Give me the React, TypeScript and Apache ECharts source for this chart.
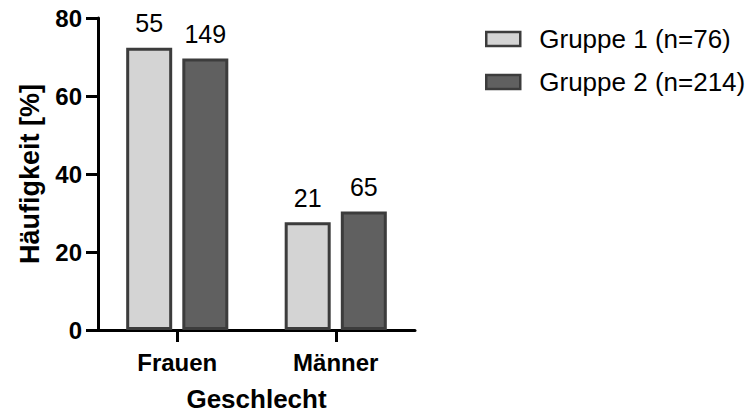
import React, { useEffect, useRef } from "react";
import * as echarts from "echarts";

const categories = ["Frauen", "Männer"];
const seriesNames = ["Gruppe 1 (n=76)", "Gruppe 2 (n=214)"];
const group1Percent = [72.4, 27.6];
const group2Percent = [69.6, 30.4];
const group1Counts = ["55", "21"];
const group2Counts = ["149", "65"];
const yTicks = [0, 20, 40, 60, 80];

const FONT = "'Liberation Sans', Arial, sans-serif";

export default function App() {
  const ref = useRef<HTMLDivElement>(null);
  useEffect(() => {
    if (!ref.current) return;
    const chart = echarts.init(ref.current, undefined, { renderer: "svg" });
    const mkSeries = (name: string, data: number[], labels: string[], color: string) => ({
      name,
      type: "bar",
      data: data.map((v, i) => ({ value: v, label: { formatter: labels[i] } })),
      barWidth: 46,
      barGap: "22%",
      itemStyle: { color, borderColor: "#3c3c3c", borderWidth: 3 },
      label: {
        show: true,
        position: "top",
        distance: 12,
        color: "#000",
        fontSize: 25,
        fontFamily: FONT,
      },
    });
    chart.setOption({
      animation: false,
      textStyle: { fontFamily: FONT },
      grid: { left: 98, right: 334, top: 18, bottom: 84, containLabel: false },
      legend: {
        orient: "vertical",
        left: 480,
        top: 21,
        itemWidth: 34,
        itemHeight: 14,
        itemGap: 17,
        icon: "rect",
        data: seriesNames,
        textStyle: { fontSize: 26, color: "#000", fontFamily: FONT, padding: [0, 0, 0, 14] },
        itemStyle: { borderColor: "#3c3c3c", borderWidth: 2.5 },
      },
      xAxis: {
        type: "category",
        data: categories,
        name: "Geschlecht",
        nameLocation: "middle",
        nameGap: 56,
        nameTextStyle: { fontSize: 26, fontWeight: "bold", color: "#000", fontFamily: FONT },
        axisLine: { lineStyle: { color: "#000", width: 3 } },
        axisTick: { show: true, alignWithLabel: true, length: 12, lineStyle: { color: "#000", width: 3 } },
        axisLabel: { fontSize: 24, fontWeight: "bold", color: "#000", margin: 20, fontFamily: FONT },
      },
      yAxis: {
        type: "value",
        min: yTicks[0],
        max: yTicks[yTicks.length - 1],
        interval: 20,
        name: "Häufigkeit [%]",
        nameLocation: "middle",
        nameRotate: 90,
        nameGap: 55,
        nameTextStyle: { fontSize: 27, fontWeight: "bold", color: "#000", fontFamily: FONT },
        axisLine: { show: true, lineStyle: { color: "#000", width: 3 } },
        axisTick: { show: true, length: 12, lineStyle: { color: "#000", width: 3 } },
        axisLabel: { fontSize: 24, fontWeight: "bold", color: "#000", margin: 16, fontFamily: FONT },
        splitLine: { show: false },
      },
      series: [
        mkSeries(seriesNames[0], group1Percent, group1Counts, "#d4d4d4"),
        mkSeries(seriesNames[1], group2Percent, group2Counts, "#606060"),
      ],
    });
    return () => chart.dispose();
  }, []);
  return <div ref={ref} style={{ width: 749, height: 417, position: "absolute", left: 0, top: 0 }} />;
}
